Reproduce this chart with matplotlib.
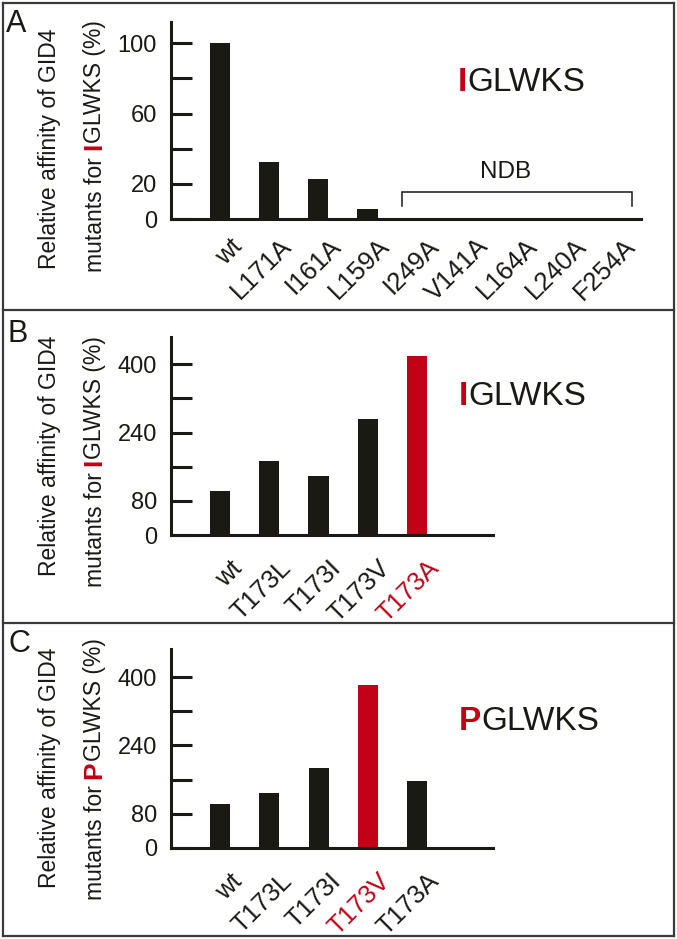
import numpy as np
import matplotlib
matplotlib.use('Agg')
import matplotlib.pyplot as plt
from matplotlib.transforms import ScaledTranslation
from matplotlib.lines import Line2D

plt.rcParams['font.family'] = ['Liberation Sans', 'DejaVu Sans']

W, H, DPI = 677, 939, 100

# ---------------- data ----------------
a_categories = ['wt', 'L171A', 'I161A', 'L159A', 'I249A', 'V141A', 'L164A', 'L240A', 'F254A']
a_values = [100, 32.5, 22.8, 5.7, 0, 0, 0, 0, 0]
a_yticks = [0, 20, 40, 60, 80, 100]
a_yticklabels = ['0', '20', '', '60', '', '100']
a_ndb_first = 'I249A'
a_ndb_last = 'F254A'

b_categories = ['wt', 'T173L', 'T173I', 'T173V', 'T173A']
b_values = [103, 173, 139, 273, 420]
b_highlight = 'T173A'

c_categories = ['wt', 'T173L', 'T173I', 'T173V', 'T173A']
c_values = [102, 129, 186, 381, 156]
c_highlight = 'T173V'

bc_yticks = [0, 80, 160, 240, 320, 400]
bc_yticklabels = ['0', '80', '', '240', '', '400']

panel_letters = ['A', 'B', 'C']
residues = ['I', 'I', 'P']
peptide_rest = 'GLWKS'
ylabel_line1 = 'Relative affinity of GID4'
ylabel_line2_pre = 'mutants for '
ylabel_line2_post = 'GLWKS (%)'

BLACK = '#1b1914'
RED = '#c20016'
FRAME = '#3a3a3a'

fig = plt.figure(figsize=(W / DPI, H / DPI), dpi=DPI)
renderer = fig.canvas.get_renderer()


def fx(px):
    return px / W


def fy(py):
    return 1 - py / H


def rect(l, t, r, b):
    return [l / W, 1 - b / H, (r - l) / W, (b - t) / H]


def text_width(s, **kw):
    t = fig.text(0, 0, s, **kw)
    w = t.get_window_extent(renderer).width
    t.remove()
    return w


def advance(s, **kw):
    return text_width(s + '|', **kw) - text_width('|', **kw)


def rich_horizontal(cx, baseline, pieces):
    advs = [advance(s, **kw) for s, kw in pieces]
    total = sum(advs)
    x = cx - total / 2
    for (s, kw), a in zip(pieces, advs):
        fig.text(fx(x), fy(baseline), s, ha='left', va='baseline', **kw)
        x += a


def rich_vertical(baseline_x, cy, pieces):
    advs = [advance(s, **kw) for s, kw in pieces]
    total = sum(advs)
    y = cy + total / 2
    for (s, kw), a in zip(pieces, advs):
        fig.text(fx(baseline_x), fy(y), s, ha='left', va='baseline',
                 rotation=90, rotation_mode='anchor', **kw)
        y -= a


def draw_panel(rect_px, cats, vals, bar_colors, label_colors, yticks, yticklabels,
               ytop, xright, label_dy):
    ax = fig.add_axes(rect(*rect_px))
    x = np.arange(len(cats))
    ax.bar(x, vals, width=0.41, color=bar_colors, linewidth=0)
    ax.set_xlim(-1.0, xright)
    ax.set_ylim(0, ytop)
    for s in ['top', 'right']:
        ax.spines[s].set_visible(False)
    for s in ['left', 'bottom']:
        ax.spines[s].set_linewidth(2.2)
        ax.spines[s].set_color(BLACK)
        ax.spines[s].set_capstyle('projecting')
    ax.set_yticks(yticks)
    ax.set_yticklabels(yticklabels, fontsize=17, color=BLACK)
    ax.tick_params(axis='y', direction='in', length=15, width=2.2, pad=10, color=BLACK)
    ax.tick_params(axis='x', bottom=False, labelbottom=False)
    ax.patch.set_alpha(0)
    off = ScaledTranslation(10 / DPI, -label_dy / DPI, fig.dpi_scale_trans)
    trans = ax.get_xaxis_transform() + off
    for i, (c, col) in enumerate(zip(cats, label_colors)):
        ax.text(i, 0, c, transform=trans, rotation=45, rotation_mode='anchor',
                ha='right', va='top', fontsize=18.5, color=col)
    return ax


# ---------------- panel A ----------------
axA = draw_panel((170.7, 21.7, 640.5, 219), a_categories, a_values,
                 [BLACK] * len(a_categories), [BLACK] * len(a_categories),
                 a_yticks, a_yticklabels, 112.3, 8.55, 15)
i0 = a_categories.index(a_ndb_first)
i1 = a_categories.index(a_ndb_last)
bx0, bx1 = i0 - 0.3, i1 + 0.37
axA.plot([bx0, bx0, bx1, bx1], [7.4, 15.5, 15.5, 7.4], color=BLACK, lw=1.1,
         clip_on=False, solid_joinstyle='miter')
axA.text(5.8, 23.2, 'NDB', ha='center', va='baseline', fontsize=17.5, color=BLACK)

# ---------------- panel B ----------------
draw_panel((170.7, 336.7, 493.3, 535), b_categories, b_values,
           [RED if c == b_highlight else BLACK for c in b_categories],
           [RED if c == b_highlight else BLACK for c in b_categories],
           bc_yticks, bc_yticklabels, 464.7, 5.55, 21)

# ---------------- panel C ----------------
draw_panel((171, 648.7, 493.3, 848), c_categories, c_values,
           [RED if c == c_highlight else BLACK for c in c_categories],
           [RED if c == c_highlight else BLACK for c in c_categories],
           bc_yticks, bc_yticklabels, 466.2, 5.55, 21)

# ---------------- texts ----------------
big_pos = [(521.7, 90.7), (522.5, 405), (529.2, 730.3)]
letter_pos = [(6.0, 31.7), (8.0, 341.7), (8.0, 651.5)]
ylab1_pos = [(56.2, 148.5), (56.2, 456), (56.2, 768)]
ylab2_pos = [(101.5, 146), (101.5, 461.5), (101.5, 769)]

for k in range(3):
    res = residues[k]
    rich_horizontal(big_pos[k][0], big_pos[k][1], [
        (res, dict(fontsize=24, color=RED, fontweight='bold')),
        (peptide_rest, dict(fontsize=24, color=BLACK)),
    ])
    fig.text(fx(letter_pos[k][0]), fy(letter_pos[k][1]), panel_letters[k],
             ha='left', va='baseline', fontsize=22, color=BLACK)
    fig.text(fx(ylab1_pos[k][0]), fy(ylab1_pos[k][1]), ylabel_line1,
             ha='center', va='baseline', rotation=90, rotation_mode='anchor',
             fontsize=16.5, color=BLACK)
    rich_vertical(ylab2_pos[k][0], ylab2_pos[k][1], [
        (ylabel_line2_pre, dict(fontsize=16.5, color=BLACK)),
        (res, dict(fontsize=19, color=RED, fontweight='bold')),
        (ylabel_line2_post, dict(fontsize=16.5, color=BLACK)),
    ])

# ---------------- frames ----------------
xl, xr = 2.5, 674
ys = [2.5, 309.5, 622.5, 935.5]
for y in ys:
    fig.add_artist(Line2D([fx(xl), fx(xr)], [fy(y), fy(y)], color=FRAME, lw=1.6))
for x in (xl, xr):
    fig.add_artist(Line2D([fx(x), fx(x)], [fy(ys[0]), fy(ys[-1])], color=FRAME, lw=1.6))

fig.savefig('out.png', dpi=DPI, facecolor='white')
